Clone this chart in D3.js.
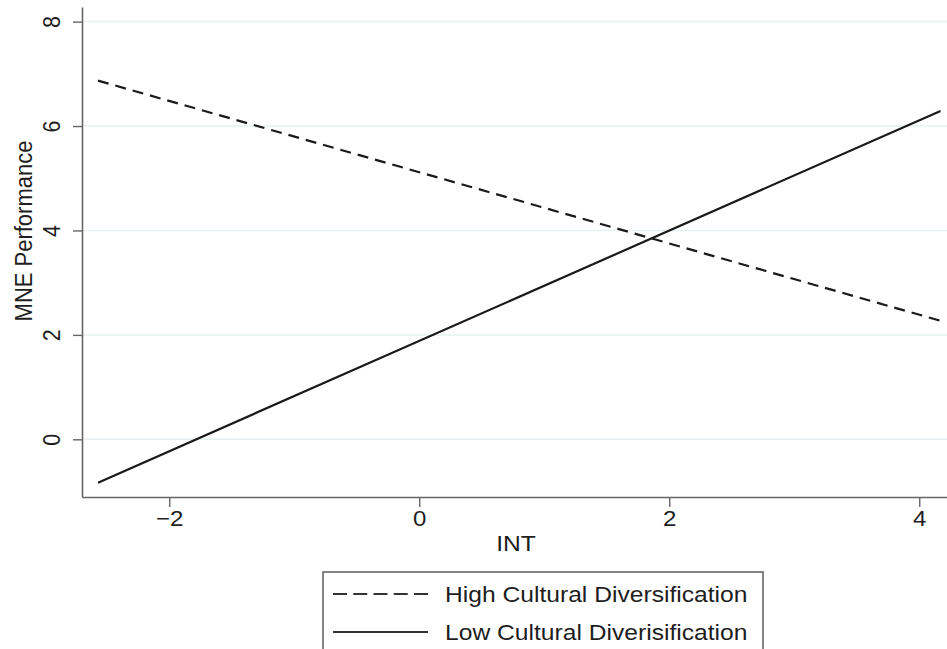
<!DOCTYPE html>
<meta charset="utf-8">
<html>
<style>
  body { margin: 0; background: #fff; }
  .chart text {
    font-family: "Liberation Sans", Arial, sans-serif;
    fill: #1e1e1e;
  }
</style>
<script src="https://cdn.jsdelivr.net/npm/d3@7"></script>
<body>
  <svg class="chart"></svg>
</body>
<script>
  var width = 947;
  var height = 649;

  // data
  var intValues = [-2.57, 4.17];
  var highDiv = [6.87, 2.27];
  var lowDiv = [-0.83, 6.29];
  var xTicks = [-2, 0, 2, 4];
  var yTicks = [0, 2, 4, 6, 8];
  var seriesNames = ["High Cultural Diversification", "Low Cultural Diverisification"];

  var stretch = 1.12; // source image is a bit wider than tall

  var x = d3.scaleLinear().domain([-2.698, 4.222]).range([82, 947]);
  var y = d3.scaleLinear().domain([-1.105, 8.28]).range([497, 7]);

  var svg = d3.select(".chart")
    .attr("width", width)
    .attr("height", height);

  // grid
  svg.append("g")
    .selectAll("line")
    .data(yTicks)
    .enter().append("line")
    .attr("x1", x.range()[0])
    .attr("x2", x.range()[1])
    .attr("y1", function(d) { return y(d); })
    .attr("y2", function(d) { return y(d); })
    .attr("stroke", "#e9f0f1")
    .attr("stroke-width", 1.5);

  // x axis
  var xAxis = svg.append("g")
    .attr("transform", "translate(0," + y.range()[0] + ")")
    .call(d3.axisBottom(x).tickValues(xTicks).tickSize(10).tickSizeOuter(0).tickPadding(4)
      .tickFormat(function(d) { return d < 0 ? "\u2212" + Math.abs(d) : d; }));
  xAxis.select(".domain").attr("stroke", "#666").attr("stroke-width", 1.6);
  xAxis.selectAll(".tick line").attr("stroke", "#666").attr("stroke-width", 1.4);
  xAxis.selectAll(".tick text")
    .attr("font-size", 21.5)
    .attr("fill", "#1e1e1e")
    .attr("transform", "scale(" + stretch + ",1)");

  // y axis
  var yAxis = svg.append("g")
    .attr("transform", "translate(" + x.range()[0] + ",0)")
    .call(d3.axisLeft(y).tickValues(yTicks).tickSize(9).tickSizeOuter(0).tickFormat(d3.format("d")));
  yAxis.select(".domain").attr("stroke", "#666").attr("stroke-width", 1.6);
  yAxis.selectAll(".tick line").attr("stroke", "#666").attr("stroke-width", 1.4);
  yAxis.selectAll(".tick text")
    .attr("font-size", 21.5)
    .attr("fill", "#1e1e1e")
    .attr("x", 0)
    .attr("y", 0)
    .attr("dy", "0.35em")
    .attr("text-anchor", "middle")
    .attr("transform", "translate(-30,0) scale(" + stretch + ",1) rotate(-90)");

  // axis titles
  svg.append("text")
    .attr("transform", "translate(516,551) scale(" + stretch + ",1)")
    .attr("text-anchor", "middle")
    .attr("font-size", 22)
    .text("INT");

  svg.append("text")
    .attr("transform", "translate(32,231) scale(" + stretch + ",1) rotate(-90)")
    .attr("text-anchor", "middle")
    .attr("font-size", 22)
    .text("MNE Performance");

  // lines
  var line = d3.line()
    .x(function(d) { return x(d[0]); })
    .y(function(d) { return y(d[1]); });

  svg.append("path")
    .datum(d3.zip(intValues, highDiv))
    .attr("d", line)
    .attr("fill", "none")
    .attr("stroke", "#1a1a1a")
    .attr("stroke-width", 2.2)
    .attr("stroke-dasharray", "11,7");

  svg.append("path")
    .datum(d3.zip(intValues, lowDiv))
    .attr("d", line)
    .attr("fill", "none")
    .attr("stroke", "#1a1a1a")
    .attr("stroke-width", 2.2);

  // legend
  var legend = svg.append("g");
  legend.append("rect")
    .attr("x", 323)
    .attr("y", 572)
    .attr("width", 440)
    .attr("height", 100)
    .attr("fill", "none")
    .attr("stroke", "#666")
    .attr("stroke-width", 1.6);

  var rows = legend.selectAll("g.row")
    .data(seriesNames)
    .enter().append("g")
    .attr("class", "row")
    .attr("transform", function(d, i) { return "translate(0," + (594 + i * 38) + ")"; });

  rows.append("line")
    .attr("x1", 333)
    .attr("x2", 428)
    .attr("stroke", "#333")
    .attr("stroke-width", 2.2)
    .attr("stroke-dasharray", function(d, i) { return i === 0 ? "14,6.25" : null; });

  rows.append("text")
    .attr("transform", "translate(445,8) scale(" + stretch + ",1)")
    .attr("font-size", 22)
    .text(function(d) { return d; });
</script>
</html>
